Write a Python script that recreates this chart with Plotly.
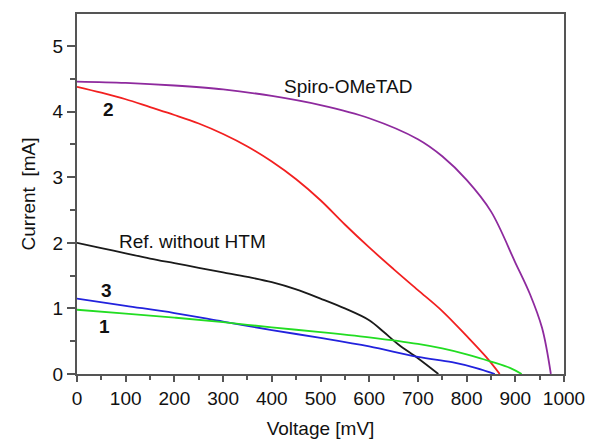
import plotly.graph_objects as go

# Data (voltage in mV, current in mA)
spiro_v = [0, 100, 200, 300, 400, 500, 600, 700, 750, 800, 850, 900, 930, 955, 973]
spiro_i = [4.46, 4.44, 4.40, 4.34, 4.24, 4.10, 3.90, 3.58, 3.32, 2.96, 2.48, 1.70, 1.22, 0.70, 0]

c2_v = [0, 50, 100, 150, 200, 250, 300, 350, 400, 450, 500, 550, 600, 650, 700, 750, 800, 840, 868]
c2_i = [4.38, 4.29, 4.19, 4.07, 3.95, 3.82, 3.66, 3.47, 3.24, 2.97, 2.65, 2.28, 1.93, 1.60, 1.28, 0.96, 0.58, 0.26, 0]

ref_v = [0, 50, 100, 150, 200, 250, 300, 350, 400, 450, 500, 550, 600, 630, 660, 700, 742]
ref_i = [2.0, 1.92, 1.84, 1.76, 1.69, 1.62, 1.55, 1.48, 1.40, 1.29, 1.15, 1.00, 0.82, 0.64, 0.45, 0.24, 0]

c3_v = [0, 100, 200, 300, 400, 500, 600, 700, 770, 820, 858]
c3_i = [1.15, 1.04, 0.93, 0.80, 0.67, 0.55, 0.42, 0.26, 0.18, 0.09, 0]

c1_v = [0, 100, 200, 300, 400, 500, 600, 700, 750, 800, 850, 890, 913]
c1_i = [0.98, 0.92, 0.86, 0.79, 0.71, 0.64, 0.56, 0.46, 0.39, 0.30, 0.19, 0.09, 0]

series = [
    (spiro_v, spiro_i, "#8E2A9E"),
    (c2_v, c2_i, "#F22020"),
    (ref_v, ref_i, "#1A1A1A"),
    (c3_v, c3_i, "#2222DD"),
    (c1_v, c1_i, "#22DD22"),
]

labels = [
    ("Spiro-OMeTAD", 556, 4.39, False),
    ("2", 64, 4.04, True),
    ("Ref. without HTM", 238, 2.02, False),
    ("3", 60, 1.28, True),
    ("1", 57, 0.72, True),
]

FONT = "Liberation Sans, Arial, sans-serif"

fig = go.Figure()
for v, i, col in series:
    fig.add_trace(go.Scatter(x=v, y=i, mode="lines",
                             line=dict(color=col, width=1.8, shape="spline", smoothing=1.0),
                             showlegend=False, hoverinfo="skip"))

for txt, x, y, bold in labels:
    fig.add_annotation(x=x, y=y, text=f"<b>{txt}</b>" if bold else txt,
                       showarrow=False, xanchor="center", yanchor="middle",
                       font=dict(size=19, color="#111111", family=FONT))

axis_common = dict(
    showgrid=False, zeroline=False, showline=True, linecolor="#555555", linewidth=2,
    mirror=True, ticks="outside", tickcolor="#555555", tickwidth=1.5, automargin=False,
    tickfont=dict(size=19, color="#111111", family=FONT),
)

fig.update_xaxes(range=[0, 1000], tickmode="array",
                 tickvals=[0, 100, 200, 300, 400, 500, 600, 700, 800, 900, 1000],
                 ticklen=6,
                 minor=dict(ticks="outside", dtick=50, ticklen=4, tickcolor="#555555", tickwidth=1.5),
                 title=dict(text="Voltage [mV]", standoff=14,
                            font=dict(size=19, color="#111111", family=FONT)),
                 **axis_common)
fig.update_yaxes(range=[0, 5.49], tickmode="array", tickvals=[0, 1, 2, 3, 4, 5],
                 ticklen=8,
                 minor=dict(ticks="outside", dtick=0.5, ticklen=5, tickcolor="#555555", tickwidth=1.5),
                 title=dict(text="Current\u00a0\u00a0[mA]", standoff=12,
                            font=dict(size=19, color="#111111", family=FONT)),
                 **axis_common)

fig.update_layout(width=589, height=441, margin=dict(l=77, r=25, t=14, b=67),
                  plot_bgcolor="white", paper_bgcolor="white")

fig.write_html("out.html", config={"displayModeBar": False},
               post_script="document.body.style.margin='0';document.body.style.padding='0';"
                           "document.body.style.overflow='hidden';")
